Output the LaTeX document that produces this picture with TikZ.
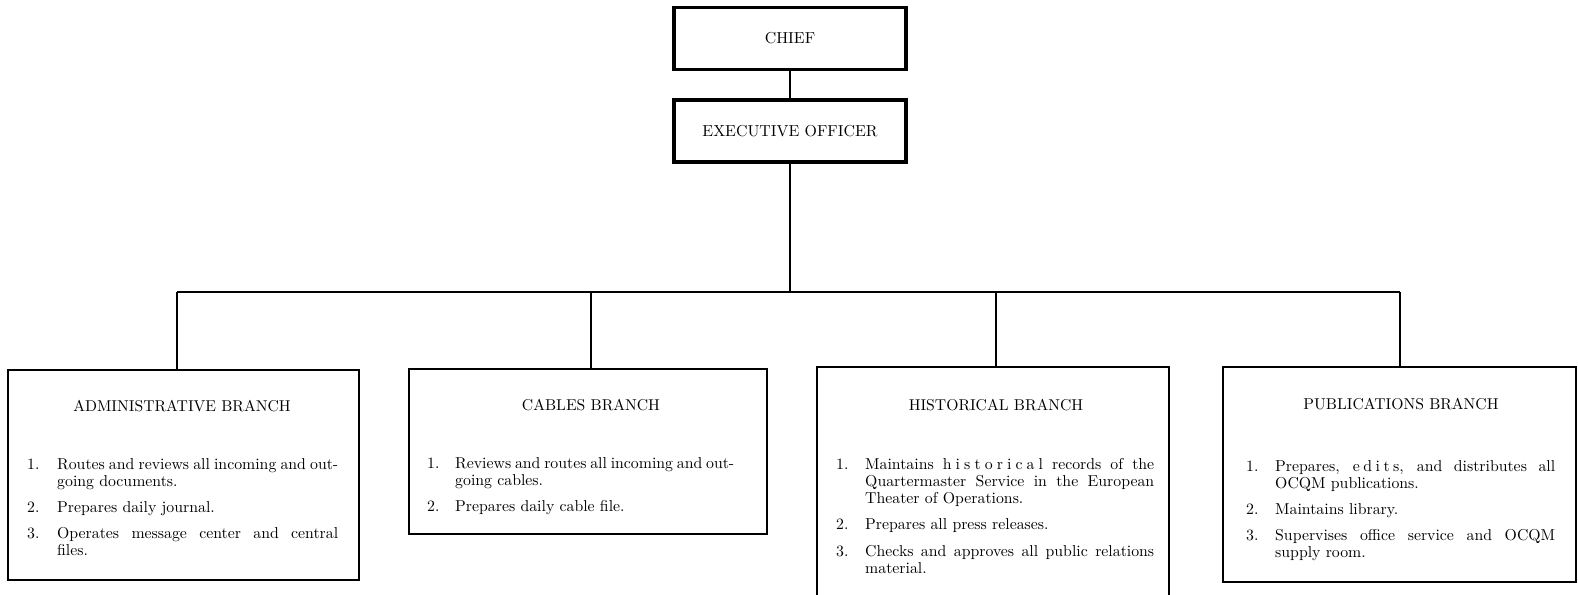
\documentclass[tikz,border=0pt]{standalone}
\usepackage{fontspec}
% the 10pt design of Latin Modern at every size
\setmainfont{lmroman10-regular.otf}

% one numbered duty with a hanging indent
\newlength\dutyindent
\setlength\dutyindent{29pt}
\newcommand\duty[2]{\noindent\hangindent=\dutyindent\hangafter=1%
  \makebox[\dutyindent][l]{#1}#2\par}
\newcommand\dutygap{\vspace{9pt}}
% a list of duties, justified, with its first baseline at the node's base
\newcommand\dutylist[3]{\parbox[t]{#1}{\fontsize{15.8pt}{17pt}\selectfont
  \setlength\dutyindent{#2}%
  \tolerance=10000\hyphenpenalty=10000\parindent=0pt #3}}
% letter-spaced word
\newcommand\spacedword[2]{\def\wordkern{\kern#1}\spacedletters#2\relax}
\def\spacedletters#1#2{#1\ifx\relax#2\else\wordkern\expandafter\spacedletters\expandafter#2\fi}

\begin{document}
\begin{tikzpicture}[x=1pt,y=-1pt,
  topbox/.style={draw, line width=3.6pt, minimum width=232pt, minimum height=62pt,
    inner sep=0pt, font=\fontsize{15.9pt}{19pt}\selectfont},
  branchbox/.style={draw, line width=1.4pt, inner sep=0pt},
  title/.style={inner sep=0pt, font=\fontsize{15.7pt}{17pt}\selectfont},
  duties/.style={anchor=base west, inner sep=0pt},
  link/.style={line width=2.6pt}]

\clip (0,0) rectangle (1578,594);

% top of the chart
\node[topbox] (chief) at (790,38.5) {CHIEF};
\node[topbox] (exec) at (790,131) {EXECUTIVE OFFICER};

% branch boxes
\node[branchbox, minimum width=351pt, minimum height=210pt] (admin) at (183.5,475) {};
\node[branchbox, minimum width=358pt, minimum height=165pt] (cables) at (588,451.5) {};
\node[branchbox, minimum width=352pt, minimum height=253pt] (hist) at (993,493.5) {};
\node[branchbox, minimum width=353pt, minimum height=215pt] (pubs) at (1399.5,474.5) {};

% junctions on the distribution bar
\coordinate (busA) at (177,292);
\coordinate (busB) at (591,292);
\coordinate (busC) at (996,292);
\coordinate (busD) at (1400,292);

% connectors
\draw[link] (chief.south) -- (exec.north);
\draw[link] (exec.south) -- (exec.south |- busA);
\draw[link] (busA) -- (busD);
\draw[link] (busA) -- (busA |- admin.north);
\draw[link] (busB) -- (busB |- cables.north);
\draw[link] (busC) -- (busC |- hist.north);
\draw[link] (busD) -- (busD |- pubs.north);

% branch titles
\node[title] (admintitle) at (182,406.5) {ADMINISTRATIVE BRANCH};
\node[title] (cabletitle) at (591,405) {CABLES BRANCH};
\node[title] (histtitle) at (996,405) {HISTORICAL BRANCH};
\node[title] (pubstitle) at (1401,404) {PUBLICATIONS BRANCH};

% branch duties
\node[duties] (adminduties) at (27,469.5) {\dutylist{311pt}{30pt}{%
  \duty{1.}{Routes and reviews all incoming and out-\linebreak going documents.}\dutygap
  \duty{2.}{Prepares daily journal.}\dutygap
  \duty{3.}{Operates message center and central\linebreak files.}}};

\node[duties] (cableduties) at (427,468.5) {\dutylist{307pt}{28pt}{%
  \duty{1.}{Reviews and routes all incoming and out-\linebreak going cables.}\dutygap
  \duty{2.}{Prepares daily cable file.}}};

\node[duties] (histduties) at (836,469) {\dutylist{318pt}{29pt}{%
  \duty{1.}{Maintains \spacedword{4.1pt}{historical} records of the\linebreak Quartermaster Service in the European\linebreak Theater of Operations.}\dutygap
  \duty{2.}{Prepares all press releases.}\vspace{10pt}
  \duty{3.}{Checks and approves all public relations\linebreak material.}}};

\node[duties] (pubsduties) at (1246,471.5) {\dutylist{309pt}{29pt}{%
  \duty{1.}{Prepares, \spacedword{3.5pt}{edits}, and distributes all\linebreak OCQM publications.}\dutygap
  \duty{2.}{Maintains library.}\dutygap
  \duty{3.}{Supervises office service and OCQM\linebreak supply room.}}};

\end{tikzpicture}
\end{document}
